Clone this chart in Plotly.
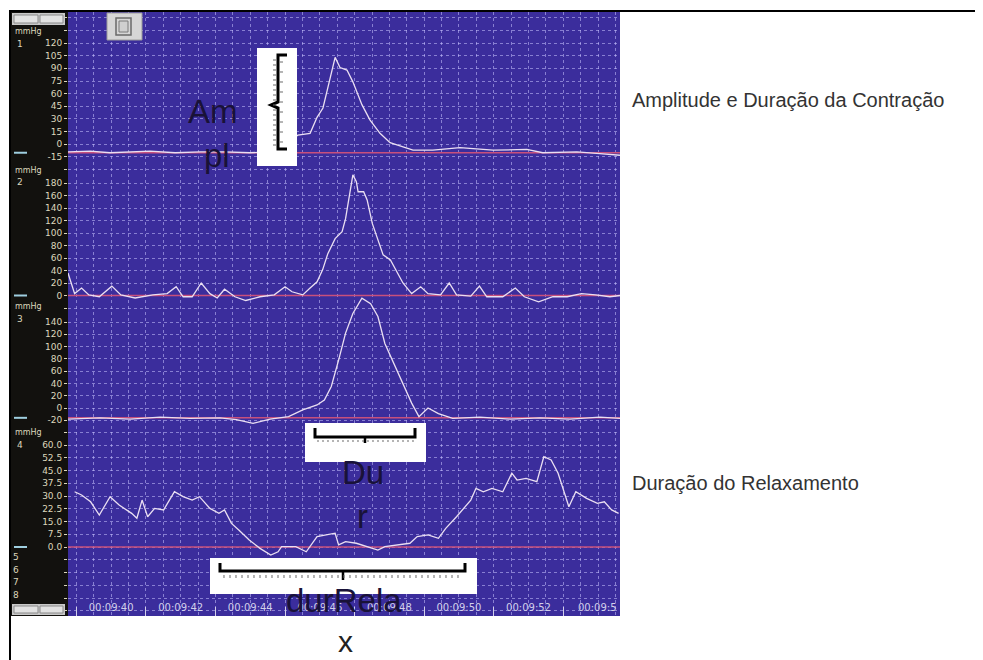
import plotly.graph_objects as go

# ---------------- recorded pressure traces (time in s, pressure in mmHg) ----------------
t1 = [578.76, 579.40, 579.97, 580.55, 581.12, 581.84, 582.56, 583.28, 583.99, 584.57,
      585.00, 585.20, 585.37, 585.72, 585.92, 586.09, 586.24, 586.44, 586.58, 586.78,
      586.95, 587.21, 587.44, 587.73, 588.02, 588.68, 589.25, 590.03, 590.98, 591.95,
      592.41, 593.39, 594.05, 594.63]
p1 = [-9, -8, -10, -9, -8, -10, -9, -9, -10, -9,
      -4, 5, 11, 13, 32, 43, 68, 103, 91, 88,
      74, 47, 29, 13, 2, -7, -7, -4, -7, -6,
      -10, -9, -11, -13]

t2 = [578.76, 578.84, 578.95, 579.15, 579.36, 579.66, 580.02, 580.28, 580.69, 581.20,
      581.61, 581.87, 582.07, 582.33, 582.59, 582.84, 583.05, 583.26, 583.56, 583.87,
      584.28, 584.69, 585.00, 585.20, 585.51, 585.72, 585.92, 586.08, 586.23, 586.44,
      586.64, 586.74, 586.85, 586.95, 587.05, 587.10, 587.26, 587.36, 587.51, 587.67,
      587.82, 588.03, 588.18, 588.39, 588.64, 588.90, 589.11, 589.47, 589.72, 589.93,
      590.34, 590.59, 590.80, 591.26, 591.62, 591.88, 592.29, 592.70, 593.11, 593.52,
      593.93, 594.34, 594.63]
p2 = [36, 22, 3, 12, 1, -2, 15, 1, -4, 1,
      3, 14, -2, -2, 20, 3, -4, 10, -2, -8,
      -2, 1, 14, 6, 1, 12, 22, 41, 67, 91,
      102, 123, 163, 193, 182, 166, 166, 153, 115, 89,
      65, 57, 41, 20, 3, 14, 3, 1, 20, 1,
      -1, 15, -2, -2, 12, -2, -10, -2, -2, 3,
      1, -2, 0]

t3 = [578.76, 579.68, 580.55, 581.41, 582.27, 583.13, 583.60, 584.08, 584.57, 585.10,
      585.51, 585.92, 586.13, 586.33, 586.54, 586.74, 586.95, 587.21, 587.46, 587.67,
      587.87, 588.13, 588.39, 588.64, 588.85, 589.11, 589.41, 589.82, 590.60, 591.47,
      592.33, 593.19, 594.05, 594.63]
p3 = [-18, -16, -18, -15, -17, -16, -19, -25, -18, -14,
      -3, 5, 13, 35, 78, 122, 154, 179, 170, 149,
      105, 73, 40, 8, -14, 0, -9, -17, -15, -18,
      -16, -18, -15, -17]

t4 = [578.95, 579.15, 579.41, 579.66, 579.97, 580.23, 580.59, 580.74, 580.89, 581.05,
      581.25, 581.51, 581.82, 582.07, 582.33, 582.54, 582.84, 583.10, 583.26, 583.46,
      583.67, 583.97, 584.28, 584.59, 584.80, 584.90, 585.31, 585.61, 585.92, 586.23,
      586.44, 586.54, 586.74, 587.05, 587.36, 587.67, 587.87, 588.28, 588.59, 588.80,
      589.11, 589.41, 589.62, 589.93, 590.13, 590.34, 590.49, 590.70, 590.95, 591.26,
      591.52, 591.67, 591.93, 592.24, 592.44, 592.65, 592.85, 593.16, 593.36, 593.67,
      593.98, 594.18, 594.39, 594.59]
p4 = [32.5, 30.6, 26.6, 18.8, 29.6, 24.7, 19.8, 16.9, 27.6, 17.8,
      22.7, 21.8, 32.5, 29.6, 27.6, 29.6, 22.7, 19.8, 21.8, 13.9,
      10.0, 4.1, -0.8, -4.7, -2.8, 0.2, 0.2, -2.8, 6.1, 7.1,
      8.1, 1.2, 3.1, 2.2, 0.2, -1.8, 0.2, 1.2, 2.2, 6.1,
      7.1, 5.1, 11.0, 17.8, 22.7, 27.6, 34.5, 32.5, 34.5, 32.5,
      43.4, 39.4, 40.4, 38.4, 53.1, 51.2, 43.4, 23.7, 32.5, 28.6,
      25.7, 26.6, 21.8, 19.8]

# reference (baseline) pressure drawn in red for each channel
baselines = [-10, 0, -16, 0]

# ---------------- tick labels ----------------
ch1_ticks = [150, 135, 120, 105, 90, 75, 60, 45, 30, 15, 0, -15, -30]
ch1_text = ["", "", "120", "105", "90", "75", "60", "45", "30", "15", "0", "-15", ""]
ch2_ticks = [180, 160, 140, 120, 100, 80, 60, 40, 20, 0, -20]
ch2_text = ["180", "160", "140", "120", "100", "80", "60", "40", "20", "0", ""]
ch3_ticks = [140, 120, 100, 80, 60, 40, 20, 0, -20, -40]
ch3_text = ["140", "120", "100", "80", "60", "40", "20", "0", "-20", ""]
ch4_ticks = [60.0, 52.5, 45.0, 37.5, 30.0, 22.5, 15.0, 7.5, 0.0, -7.5, -15.0, -22.5, -30.0, -37.5]
ch4_text = ["60.0", "52.5", "45.0", "37.5", "30.0", "22.5", "15.0", "7.5", "0.0", "", "", "", "", ""]

time_ticks = [580, 582, 584, 586, 588, 590, 592]
time_labels = ["00:09:40", "00:09:42", "00:09:44", "00:09:46",
               "00:09:48", "00:09:50", "00:09:52"]
time_minor = [579, 581, 583, 585, 587, 589, 591, 593]
time_range = [578.76, 594.63]
cut_label = "00:09:5"          # last label, clipped by the window edge

channel_names = ["1", "2", "3", "4"]
spare_channels = ["5", "6", "7", "8"]

# ---------------- page geometry (pixels) ----------------
W, H = 983, 660
PX_L, PX_R, PX_T, PX_B = 68, 620, 12, 616
chan_zero_px = [144.3, 295.5, 408.0, 547.0]      # pixel row of 0 mmHg
chan_px_per_unit = [0.844, 0.625, 0.614, 1.7]    # pixels per mmHg
chan_label_px = [32, 170, 307, 433]              # "mmHg" caption rows


def xp(px):
    return px / W


def yp(py):
    return 1 - py / H


BLUE = "#3b2d9c"
GRID = "rgba(200,195,255,0.55)"
TRACE = "#eadff2"
RED = "#c8507c"
PANEL = "#12110e"
LABEL = "#ddd7bd"
INK = "#191238"

traces_t = [t1, t2, t3, t4]
traces_p = [p1, p2, p3, p4]
ticks = [(ch1_ticks, ch1_text), (ch2_ticks, ch2_text), (ch3_ticks, ch3_text), (ch4_ticks, ch4_text)]

fig = go.Figure()

for i in range(4):
    yname = "y" if i == 0 else f"y{i + 1}"
    fig.add_trace(go.Scatter(x=time_range, y=[baselines[i]] * 2, mode="lines",
                             line=dict(color=RED, width=1.6), yaxis=yname,
                             hoverinfo="skip", showlegend=False))
    fig.add_trace(go.Scatter(x=traces_t[i], y=traces_p[i], mode="lines",
                             line=dict(color=TRACE, width=1.3), yaxis=yname,
                             showlegend=False, name=f"Canal {channel_names[i]}"))

# empty trace carrying the time-label axis
fig.add_trace(go.Scatter(x=[], y=[], xaxis="x2", yaxis="y", showlegend=False, hoverinfo="skip"))

layout = dict(
    width=W, height=H,
    margin=dict(l=0, r=0, t=0, b=0),
    paper_bgcolor="white",
    plot_bgcolor=BLUE,
    showlegend=False,
    xaxis=dict(domain=[xp(PX_L), xp(PX_R)], range=time_range, tick0=578, dtick=0.5,
               showgrid=True, gridcolor=GRID, griddash="dot", gridwidth=1,
               showticklabels=False, ticks="", zeroline=False, showline=False,
               anchor="y", fixedrange=True),
    xaxis2=dict(overlaying="x", range=time_range, tickvals=time_ticks, ticktext=time_labels,
                ticklabelposition="inside", side="bottom", anchor="y", showgrid=False,
                ticks="", zeroline=False, showline=False, fixedrange=True,
                tickfont=dict(family="DejaVu Sans", size=10, color="#d2d0ea"),
                minor=dict(tickvals=time_minor, ticks="inside", ticklen=9,
                           tickcolor="#d2d0ea", tickwidth=1, showgrid=False)),
)

for i in range(4):
    s = chan_px_per_unit[i]
    hi = (chan_zero_px[i] - PX_T) / s
    lo = hi - (PX_B - PX_T) / s
    ax = dict(domain=[yp(PX_B), yp(PX_T)], range=[lo, hi],
              tickvals=ticks[i][0], ticktext=ticks[i][1],
              showgrid=True, gridcolor=GRID, griddash="dot", gridwidth=1,
              zeroline=False, showline=False, ticks="outside", ticklen=3,
              tickcolor=LABEL, tickfont=dict(family="DejaVu Sans", size=9, color=LABEL),
              anchor="x", fixedrange=True)
    if i > 0:
        ax.update(overlaying="y", side="left")
    layout["yaxis" if i == 0 else f"yaxis{i + 1}"] = ax

fig.update_layout(**layout)

shapes = []


def rect(x0, y0, x1, y1, fill, layer="above", line=None):
    shapes.append(dict(type="rect", xref="paper", yref="paper",
                       x0=xp(x0), x1=xp(x1), y0=yp(y1), y1=yp(y0),
                       fillcolor=fill, line=line or dict(width=0), layer=layer))


def path(points, color, width, layer="above"):
    d = "M " + " L ".join(f"{xp(x):.5f},{yp(y):.5f}" for x, y in points)
    shapes.append(dict(type="path", xref="paper", yref="paper", path=d,
                       line=dict(color=color, width=width), layer=layer))


def segs(pairs, color, width):
    d = " ".join(f"M {xp(a):.5f},{yp(b):.5f} L {xp(c):.5f},{yp(e):.5f}" for a, b, c, e in pairs)
    shapes.append(dict(type="path", xref="paper", yref="paper", path=d,
                       line=dict(color=color, width=width), layer="above"))


# dark channel panel on the left
rect(10, PX_T, PX_L, PX_B, PANEL, layer="below")
# frame lines
path([(10, 11), (975, 11)], "#000000", 2)
path([(10, 10), (10, 660)], "#000000", 2)

# small toolbars (top and bottom of the channel panel)
for y0, y1 in [(13, 25), (604, 615)]:
    rect(12, y0, 65, y1, "#c9c9c9")
    rect(14, y0 + 2, 38, y1 - 2, "#e2e2e2", line=dict(color="#8a8a8a", width=1))
    rect(40, y0 + 2, 63, y1 - 2, "#e2e2e2", line=dict(color="#8a8a8a", width=1))

# copy icon button
rect(107, 13, 142, 40, "#d6d6d6", line=dict(color="#9a9a9a", width=1))
rect(116, 18, 131, 35, "#d6d6d6", line=dict(color="#6a6a6a", width=1.5))
rect(119, 21, 128, 32, "#cfcfcf", line=dict(color="#7a7a7a", width=1))

# baseline arrows in the panel
for i in range(4):
    py = chan_zero_px[i] - baselines[i] * chan_px_per_unit[i]
    path([(14, py), (27, py)], "#9fcfe0", 2)

# ---- marked intervals ----
# contraction amplitude (vertical ruler)
rect(257, 48, 297, 166, "white")
path([(287, 55), (278, 55), (278, 102), (271, 105), (278, 108), (278, 149), (287, 149)], "#000000", 3)
segs([(273, y, 276, y) for y in range(60, 148, 5)], "#6a6a6a", 1)
segs([(280, y, 283, y) for y in range(62, 148, 10)], "#6a6a6a", 1)

# contraction duration (horizontal ruler)
rect(305, 423, 426, 462, "white")
path([(315, 428), (315, 437), (415, 437), (415, 428)], "#000000", 3)
path([(365, 437), (365, 443)], "#000000", 2.5)
segs([(x, 440, x, 442) for x in range(318, 414, 5)], "#6a6a6a", 1)

# relaxation duration (horizontal ruler)
rect(210, 558, 477, 594, "white")
path([(220, 563), (220, 571), (465, 571), (465, 563)], "#000000", 3)
path([(343, 571), (343, 580)], "#000000", 2.5)
segs([(x, 575, x, 578) for x in range(224, 463, 6)], "#6a6a6a", 1)

fig.update_layout(shapes=shapes)

ann = []


def text(px, py, s, size, color, family="Liberation Sans, Arial", xanchor="center"):
    ann.append(dict(x=xp(px), y=yp(py), xref="paper", yref="paper", text=s,
                    showarrow=False, xanchor=xanchor, yanchor="middle",
                    font=dict(family=family, size=size, color=color)))


for i in range(4):
    text(13, chan_label_px[i], "mmHg", 8, LABEL, family="DejaVu Sans", xanchor="left")
    text(20, chan_label_px[i] + 12, channel_names[i], 9, LABEL, family="DejaVu Sans")
for k, s in enumerate(spare_channels):
    text(16, 557 + k * 12.5, s, 9, LABEL, family="DejaVu Sans")

# clipped last time label at the right window edge
text(576, 607, cut_label, 10, "#d2d0ea", family="DejaVu Sans", xanchor="left")

text(213, 112, "Am", 33, INK)
text(217, 156, "pl", 33, INK)
text(363, 472, "Du", 33, INK)
text(362, 516, "r", 33, INK)
text(344, 600, "durRela", 33, INK)
text(345, 641, "x", 30, "#222222")

text(630, 100, "Amplitude e Duração da Contração", 20, "#333333", xanchor="left")
text(630, 483, "Duração do Relaxamento", 20, "#333333", xanchor="left")

fig.update_layout(annotations=ann)

fig.write_html("out.html")
